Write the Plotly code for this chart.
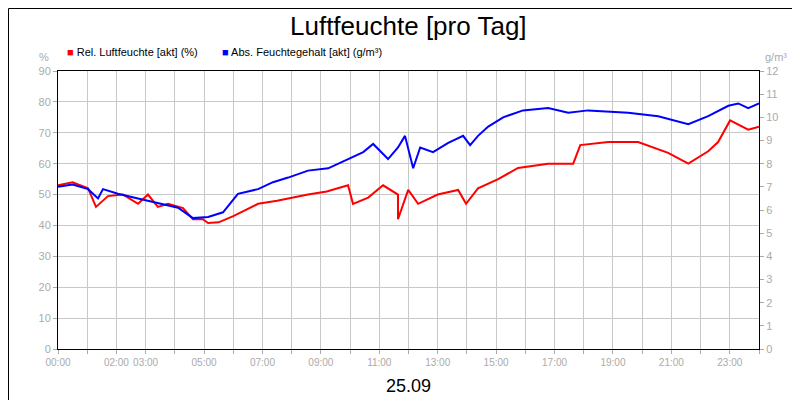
import plotly.graph_objects as go

rel_t = [0.0,0.5,1.03,1.3,1.71,2.23,2.74,3.08,3.42,3.77,4.28,4.62,4.96,5.14,5.5,6.0,6.85,7.5,8.56,9.2,9.93,10.1,10.62,11.13,11.64,11.64,11.99,12.33,13.0,13.7,13.97,14.38,15.07,15.75,16.78,17.64,17.88,18.84,19.86,20.89,21.58,22.26,22.6,23.01,23.63,24.0]
rel_v = [53,54,52,46,49.5,50,47,50,46,47,45.6,42,42,40.8,41,43,47,48,50,51,53,47,49,53,50,42,51.5,47,50,51.5,47,52,55,58.6,60,60,66,67,67,63.5,60,64,67,74,71,72]
abs_t = [0.0,0.5,1.03,1.37,1.54,2.05,2.74,3.42,4.11,4.62,5.14,5.65,6.16,6.85,7.36,7.88,8.56,9.25,9.93,10.45,10.79,11.3,11.64,11.88,12.16,12.4,12.84,13.36,13.87,14.11,14.38,14.73,15.24,15.92,16.78,17.47,18.15,19.52,20.55,21.58,22.26,22.95,23.29,23.63,24.0]
abs_v = [7.0,7.1,6.9,6.5,6.9,6.7,6.5,6.3,6.1,5.65,5.7,5.9,6.7,6.9,7.2,7.4,7.7,7.8,8.2,8.5,8.85,8.2,8.7,9.2,7.8,8.7,8.5,8.9,9.2,8.8,9.2,9.6,10.0,10.3,10.4,10.2,10.3,10.2,10.05,9.7,10.05,10.5,10.6,10.4,10.6]
tick_vals = [0,2,3,5,7,9,11,13,15,17,19,21,23]
tick_text = ["%02d:00" % h for h in tick_vals]
series_names = ["Rel. Luftfeuchte [akt] (%)", "Abs. Feuchtegehalt [akt] (g/m³)"]
series_colors = ["#ff0000", "#0000ff"]

fig = go.Figure()
fig.add_trace(go.Scatter(x=rel_t, y=rel_v, mode="lines", line=dict(color=series_colors[0], width=2),
                         name=series_names[0]))
fig.add_trace(go.Scatter(x=abs_t, y=abs_v, mode="lines", line=dict(color=series_colors[1], width=2),
                         name=series_names[1], yaxis="y2"))
gray = "#aaaaaa"
W, H = 701, 278
fig.update_layout(
    width=800, height=400, plot_bgcolor="white", paper_bgcolor="white",
    margin=dict(l=50, r=49, t=63, b=59, autoexpand=False),
    font=dict(family="Liberation Sans, Arial", size=11, color="black"),
    showlegend=False,
    xaxis=dict(range=[0, 24], tickvals=tick_vals, ticktext=tick_text, showgrid=False, tickangle=0,
               tickfont=dict(color=gray, size=10), ticks="outside", ticklen=4, tickcolor=gray,
               minor=dict(dtick=1, showgrid=True, gridcolor="#c8c8c8", ticks="outside", ticklen=4, tickcolor=gray),
               showline=True, linecolor="black", mirror=True, zeroline=False, automargin=False),
    yaxis=dict(range=[0, 90], dtick=10, gridcolor="#c8c8c8", tickfont=dict(color=gray, size=11),
               ticks="outside", ticklen=4, tickcolor=gray, showline=True, linecolor="black", mirror=True,
               zeroline=False, automargin=False),
    yaxis2=dict(range=[0, 12], dtick=1, overlaying="y", side="right", showgrid=False,
                tickfont=dict(color=gray, size=11), ticks="outside", ticklen=4, tickcolor=gray,
                zeroline=False, automargin=False),
    shapes=[dict(type="rect", xref="paper", yref="paper", x0=-49.5/W, x1=1+48.5/W, y0=-58.5/H, y1=1+62.5/H,
                 line=dict(color="black", width=1))],
    annotations=[
        dict(text="Luftfeuchte [pro Tag]", xref="paper", yref="paper", x=0.5, y=1+45/H, showarrow=False,
             font=dict(size=26), yanchor="middle"),
        dict(text="25.09", xref="paper", yref="paper", x=0.5, y=-37/H, showarrow=False,
             font=dict(size=18), yanchor="middle"),
        dict(text="%", xref="paper", yref="paper", x=-0.01, y=1+14/H, showarrow=False,
             font=dict(size=11, color=gray), xanchor="right", yanchor="middle"),
        dict(text="g/m³", xref="paper", yref="paper", x=1.005, y=1+14/H, showarrow=False,
             font=dict(size=11, color=gray), xanchor="left", yanchor="middle"),
        dict(text="<span style='color:%s'>■</span> %s" % (series_colors[0], series_names[0]),
             xref="paper", yref="paper", x=(57-50)/W, y=1+19/H, showarrow=False,
             xanchor="left", yanchor="middle", font=dict(size=11)),
        dict(text="<span style='color:%s'>■</span> %s" % (series_colors[1], series_names[1]),
             xref="paper", yref="paper", x=(212-50)/W, y=1+19/H, showarrow=False,
             xanchor="left", yanchor="middle", font=dict(size=11)),
    ],
)
fig.write_html("out.html")
